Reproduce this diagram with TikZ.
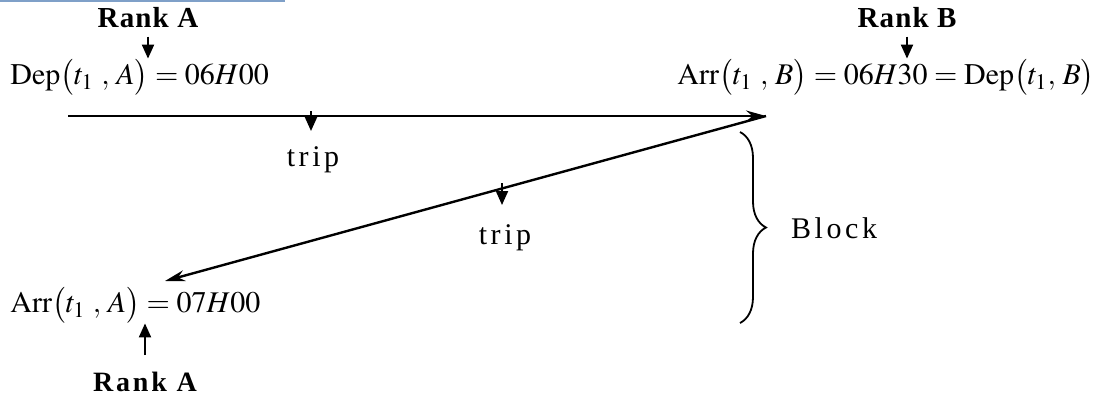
\documentclass[tikz,border=0pt]{standalone}
\usepackage{mathptmx}
\usepackage{fontspec}
\setmainfont{Liberation Serif}
\usetikzlibrary{arrows.meta,decorations.pathreplacing,positioning}
\definecolor{ruleblue}{RGB}{127,160,200}

\tikzset{
  rank/.style={font=\fontsize{14.5}{17}\selectfont\bfseries\addfontfeature{LetterSpace=4}},
  rankwide/.style={font=\fontsize{14}{17}\selectfont\bfseries\addfontfeature{LetterSpace=10}},
  spaced/.style={font=\fontsize{15}{18}\selectfont\addfontfeature{LetterSpace=12}},
  timebox/.style={inner sep=0pt,font=\fontsize{15}{18}\selectfont},
  pointer/.style={-{Triangle[length=7pt,width=6pt]},line width=1pt},
  tripline/.style={-{Stealth[length=10pt,width=5.5pt]},line width=1.2pt},
}

\begin{document}
\begin{tikzpicture}[x=0.5pt,y=-0.5pt]
    \useasboundingbox (0,0) rectangle (1103,398);
    \draw[ruleblue,line width=1pt] (0,1) -- (285,1);

    % departure from A
    \node[rank,inner sep=2pt] (rankA) at (148,18) {Rank A};
    \node[timebox,anchor=west] (depA) at (10,77) {$\mathrm{Dep}\bigl(t_1\ ,\,A\bigr)=06H00$};
    \draw[pointer,shorten <=2pt] (rankA.south) -- (rankA.south |- depA.north);

    % arrival at B
    \node[rank,inner sep=2pt] (rankB) at (907,18) {Rank B};
    \node[timebox,anchor=east] (arrB) at (1095,77) {$\mathrm{Arr}\bigl(t_1\ ,\,B\bigr)=06H30=\mathrm{Dep}\bigl(t_1,\,B\bigr)$};
    \draw[pointer,shorten <=2pt] (rankB.south) -- (rankB.south |- arrB.north);

    % the two trips
    \coordinate (tripstart) at (68,116);
    \coordinate (tripturn) at (766,116);
    \coordinate (tripend) at (165,281);
    \draw[tripline] (tripstart) -- (tripturn);
    \draw[tripline] (tripturn) -- (tripend);

    \coordinate (mark1) at (311,111);
    \coordinate[below=10pt of mark1] (tip1);
    \draw[pointer] (mark1) -- (tip1);
    \node[spaced] (trip1) at (313,160) {trip};
    \coordinate (mark2) at (502,183);
    \coordinate[below=11pt of mark2] (tip2);
    \draw[pointer] (mark2) -- (tip2);
    \node[spaced] (trip2) at (505,238) {trip};

    % block
    \draw[line width=0.9pt,decorate,decoration={brace,amplitude=13pt}] (740,132) -- (740,323);
    \node[spaced,anchor=west] (block) at (784,228) {Block};

    % arrival back at A
    \node[timebox,anchor=west] (arrA) at (10,305) {$\mathrm{Arr}\bigl(t_1\ ,\,A\bigr)=07H00$};
    \node[rankwide] (rankA2) at (145,382) {Rank A};
    \draw[pointer,shorten <=5pt] (rankA2.north) -- (rankA2.north |- arrA.south);
\end{tikzpicture}
\end{document}
